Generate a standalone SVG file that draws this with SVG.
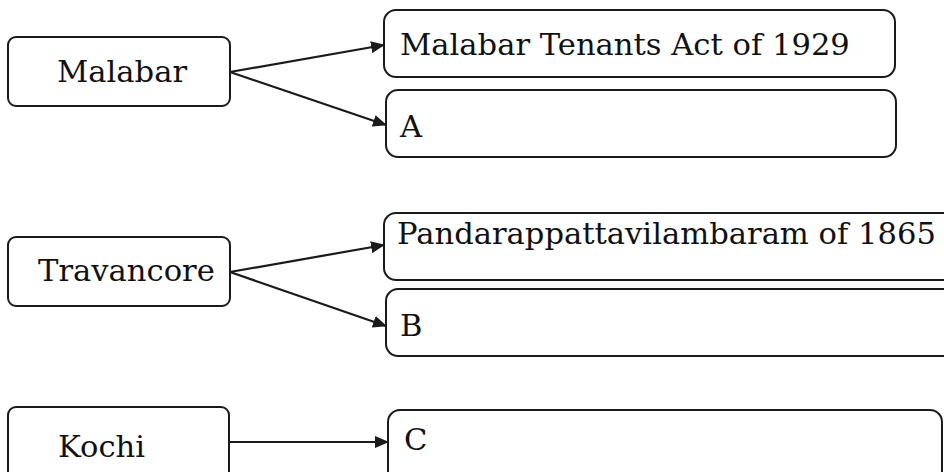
<svg xmlns="http://www.w3.org/2000/svg" width="944" height="472" viewBox="0 0 944 472">
<defs>
<marker id="ah" viewBox="0 0 14 12" refX="13" refY="6" markerWidth="14" markerHeight="12" markerUnits="userSpaceOnUse" orient="auto">
<path d="M0,0 L14,6 L0,12 Z" fill="#1a1a1a"/>
</marker>
<style>
.box{fill:#fff;stroke:#1a1a1a;stroke-width:2}
.t{font-family:"DejaVu Serif","Liberation Serif",serif;font-size:30.6px;fill:#111}
.c{fill:none;stroke:#1a1a1a;stroke-width:2.2;marker-end:url(#ah)}
</style>
</defs>
<rect width="944" height="472" fill="#fff"/>
<g id="malabar"><rect class="box" x="8" y="37" width="222" height="69" rx="8"/><text class="t" x="57" y="82">Malabar</text></g>
<g id="malabar-act"><rect class="box" x="384" y="10" width="511" height="67" rx="12"/><text class="t" x="400" y="55">Malabar Tenants Act of 1929</text></g>
<g id="a"><rect class="box" x="386" y="90" width="510" height="67" rx="12"/><text class="t" x="400" y="137">A</text></g>
<g id="travancore"><rect class="box" x="8" y="237" width="222" height="69" rx="8"/><text class="t" x="38" y="281">Travancore</text></g>
<g id="pandara"><rect class="box" x="384" y="213" width="580" height="67" rx="12"/><text class="t" x="397" y="244">Pandarappattavilambaram of 1865</text></g>
<g id="b"><rect class="box" x="386" y="289" width="580" height="67" rx="12"/><text class="t" x="400" y="336">B</text></g>
<g id="kochi"><rect class="box" x="8" y="407" width="221" height="80" rx="8"/><text class="t" x="58" y="457">Kochi</text></g>
<g id="c"><rect class="box" x="388" y="410" width="554" height="80" rx="12"/><text class="t" x="404" y="450">C</text></g>
<g id="connectors">
<line class="c" x1="230" y1="72" x2="384" y2="45"/>
<line class="c" x1="230" y1="72" x2="386" y2="125"/>
<line class="c" x1="230" y1="272" x2="384" y2="245"/>
<line class="c" x1="230" y1="272" x2="386" y2="326"/>
<line class="c" x1="229" y1="442" x2="388" y2="442"/>
</g>
</svg>
